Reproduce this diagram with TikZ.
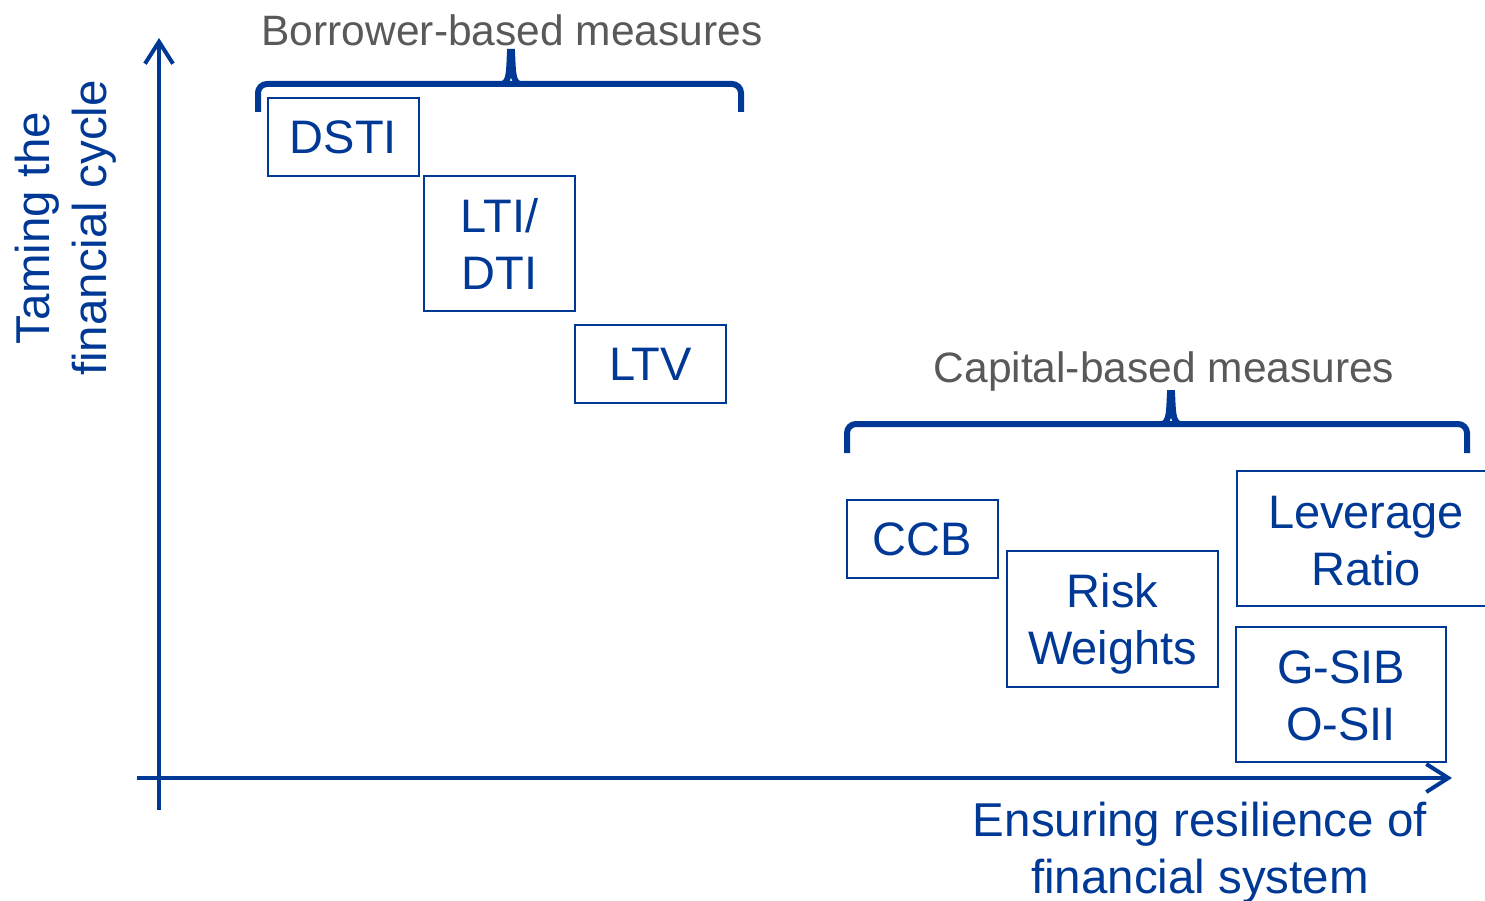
\documentclass[tikz,border=0pt]{standalone}
\usepackage{fontspec}
\setmainfont{Liberation Sans}
\usetikzlibrary{arrows.meta}
\definecolor{navy}{RGB}{0,56,150}
\definecolor{greytxt}{RGB}{89,89,89}
\begin{document}
\begin{tikzpicture}[x=1pt,y=-1pt,
  measure/.style={draw=navy, line width=2pt, text=navy, align=center, inner sep=0pt,
    font=\fontsize{47}{57}\selectfont},
  axis/.style={draw=navy, line width=4pt, -{Straight Barb[length=22pt,width=28pt]}},
  brace/.style={draw=navy, line width=6pt, rounded corners=9pt},
  spike/.style={draw=navy, line width=6pt, line cap=round},
  grouplabel/.style={text=greytxt, font=\fontsize{42.5}{50}\selectfont, inner sep=0pt},
  axislabel/.style={text=navy, align=center, inner sep=0pt, font=\fontsize{47.5}{57}\selectfont}]
\useasboundingbox (0,0) rectangle (1485,901);
\clip (0,0) rectangle (1485,901);

% axes
\coordinate (yfoot) at (159,810);
\coordinate (ytip) at (159,38);
\coordinate (xfoot) at (137,778);
\coordinate (xtip) at (1452,778);
\draw[axis] (yfoot) -- (ytip);
\draw[axis] (xfoot) -- (xtip);

\node[axislabel, rotate=90] (ylab) at (66,228) {Taming the\\financial cycle};
\node[axislabel] (xlab) at (1200,853) {Ensuring resilience of\\financial system};

% borrower-based group
\node[grouplabel] (bbm) at (512,30) {Borrower-based measures};
\draw[brace] (258,112) -- (258,84) -- (741,84) -- (741,112);
\draw[spike] (502,84) .. controls (510,83) and (509,68) .. (510,52)
             -- (512,52) .. controls (513,68) and (512,83) .. (520,84);

\node[measure, minimum width=151pt, minimum height=78pt] (dsti) at (343.5,137) {DSTI};
\node[measure, minimum width=151pt, minimum height=135pt] (lti) at (499.5,243.5) {LTI/\\DTI};
\node[measure, minimum width=151pt, minimum height=78pt] (ltv) at (650.5,364) {LTV};

% capital-based group
\node[grouplabel] (cbm) at (1164,372) {Capital-based measures};
\draw[brace] (847,453) -- (847,424) -- (1467,424) -- (1467,453);
\draw[spike] (1162,424) .. controls (1170,423) and (1169,408) .. (1170,393)
             -- (1172,393) .. controls (1173,408) and (1172,423) .. (1180,424);

\node[measure, minimum width=151pt, minimum height=78pt] (ccb) at (922.5,539) {CCB};
\node[measure, minimum width=211pt, minimum height=136pt] (rw) at (1112.5,619) {};
\node[text=navy, align=center, inner sep=0pt, font=\fontsize{47}{57}\selectfont] (rwtext) at (1112.5,624) {Risk\\Weights};
\node[measure, minimum width=258pt, minimum height=135pt] (lev) at (1366,538.5) {};
\node[text=navy, align=center, inner sep=0pt, font=\fontsize{47}{57}\selectfont] (levtext) at (1366,541) {Leverage\\Ratio};
\node[measure, minimum width=210pt, minimum height=135pt] (gsib) at (1341,694.5) {};
\node[text=navy, align=center, inner sep=0pt, font=\fontsize{47}{57}\selectfont] (gsibtext) at (1341,696) {G-SIB\\O-SII};
\end{tikzpicture}
\end{document}
